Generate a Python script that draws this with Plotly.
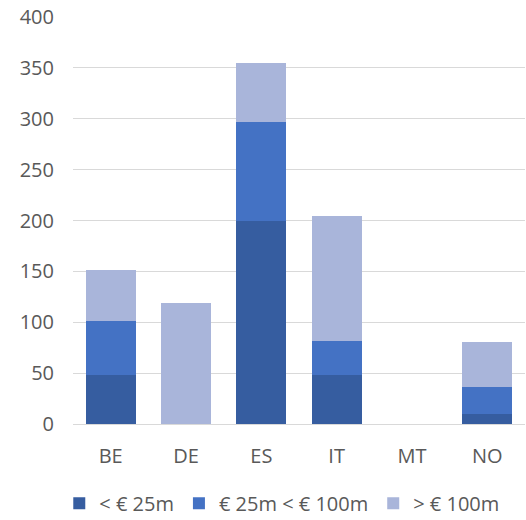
import plotly.graph_objects as go

categories = ["BE", "DE", "ES", "IT", "MT", "NO"]
series_names = ["< € 25m", "€ 25m < € 100m", "> € 100m"]
small = [48, 0, 200, 48, 0, 10]
medium = [53, 0, 97, 34, 0, 26]
large = [50, 119, 58, 122, 0, 45]
colors = ["#365DA0", "#4472C4", "#A9B5DA"]
y_ticks = [0, 50, 100, 150, 200, 250, 300, 350, 400]

fig = go.Figure()
for name, vals, col in zip(series_names, [small, medium, large], colors):
    fig.add_trace(go.Bar(x=categories, y=vals, name=name,
                         marker=dict(color=col, line=dict(width=0))))

fig.update_layout(
    barmode="stack",
    bargap=0.34,
    width=526, height=520,
    margin=dict(l=73, r=1, t=17, b=96),
    plot_bgcolor="white", paper_bgcolor="white",
    font=dict(family="Open Sans, Liberation Sans, sans-serif", size=20, color="#595959"),
    legend=dict(orientation="h", x=0.463, xanchor="center",
                yref="container", y=0.032, yanchor="middle",
                font=dict(size=20, color="#595959"), itemwidth=30,
                traceorder="normal"),
    showlegend=True,
)
fig.update_yaxes(range=[0, 400], tickvals=y_ticks, showgrid=True, gridcolor="#D9D9D9",
                 gridwidth=1, zeroline=True, zerolinecolor="#D9D9D9", zerolinewidth=1,
                 showline=False, ticks="", ticklabelstandoff=18)
fig.update_xaxes(showgrid=False, showline=False, ticks="", ticklabelstandoff=18)

fig.write_html("out.html")
